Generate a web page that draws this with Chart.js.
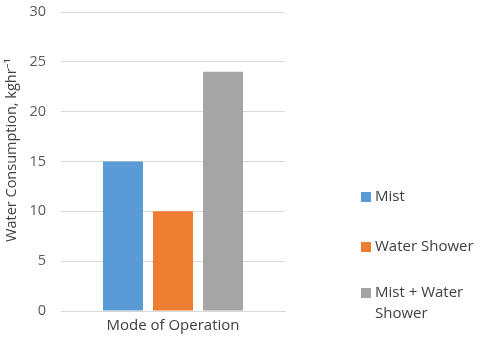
<!DOCTYPE html>
<html>
<head>
<meta charset="utf-8">
<script src="https://cdn.jsdelivr.net/npm/chart.js@4.4.1/dist/chart.umd.min.js"></script>
<style>
  html, body { margin: 0; padding: 0; background: #fff; }
  #wrap { width: 480px; height: 341px; position: relative; }
</style>
</head>
<body>
<div id="wrap"><canvas id="chart"></canvas></div>
<script>
const categories = ["Mode of Operation"];
const seriesNames = ["Mist", "Water Shower", ["Mist + Water", "Shower"]];
const seriesValues = [[15], [10], [24]];
const seriesColors = ["#5B9BD5", "#ED7D31", "#A5A5A5"];
const yTicks = [0, 5, 10, 15, 20, 25, 30];

const FONT = "'Open Sans', 'Noto Sans', sans-serif";

// legend drawn on the canvas so the last label can wrap onto two lines
const sideLegend = {
  id: "sideLegend",
  afterDraw(chart) {
    const ctx = chart.ctx;
    const x = 361;
    const rows = [197, 247, 293];
    ctx.save();
    ctx.font = "15px " + FONT;
    ctx.textBaseline = "middle";
    chart.data.datasets.forEach((ds, i) => {
      const y = rows[i];
      ctx.fillStyle = ds.backgroundColor;
      ctx.fillRect(x, y - 5, 10, 10);
      ctx.fillStyle = "#404040";
      const lines = Array.isArray(ds.label) ? ds.label : [ds.label];
      lines.forEach((line, j) => ctx.fillText(line, x + 14, y + j * 21));
    });
    ctx.restore();
  }
};

const datasets = seriesNames.map((name, i) => ({
  label: name,
  data: seriesValues[i],
  backgroundColor: seriesColors[i],
  barPercentage: 0.8,
  categoryPercentage: 0.67
}));

new Chart(document.getElementById("chart"), {
  type: "bar",
  data: { labels: categories, datasets },
  options: {
    responsive: true,
    maintainAspectRatio: false,
    animation: false,
    layout: { padding: { top: 0, right: 195, left: 0, bottom: 0 } },
    plugins: { legend: { display: false }, tooltip: { enabled: false } },
    scales: {
      x: {
        grid: { display: false, drawTicks: false },
        border: { color: "#D9D9D9" },
        ticks: { color: "#404040", font: { family: FONT, size: 15 }, padding: 6 },
        afterFit(scale) { scale.height = 30; }
      },
      y: {
        min: 0,
        max: 30,
        afterBuildTicks(scale) { scale.ticks = yTicks.map(v => ({ value: v })); },
        grid: { color: "#D9D9D9", drawTicks: false },
        border: { display: false },
        ticks: { color: "#595959", font: { family: FONT, size: 14.5 }, padding: 15 },
        title: {
          display: true,
          text: "      Water Consumption, kghr\u207B\u00B9",
          color: "#404040",
          font: { family: FONT, size: 14.5 },
          padding: { top: 3, bottom: 0 }
        },
        afterFit(scale) {
          scale.width = 61;
          scale.paddingTop = 12;
          scale.paddingBottom = 0;
        }
      }
    }
  },
  plugins: [sideLegend]
});
</script>
</body>
</html>
